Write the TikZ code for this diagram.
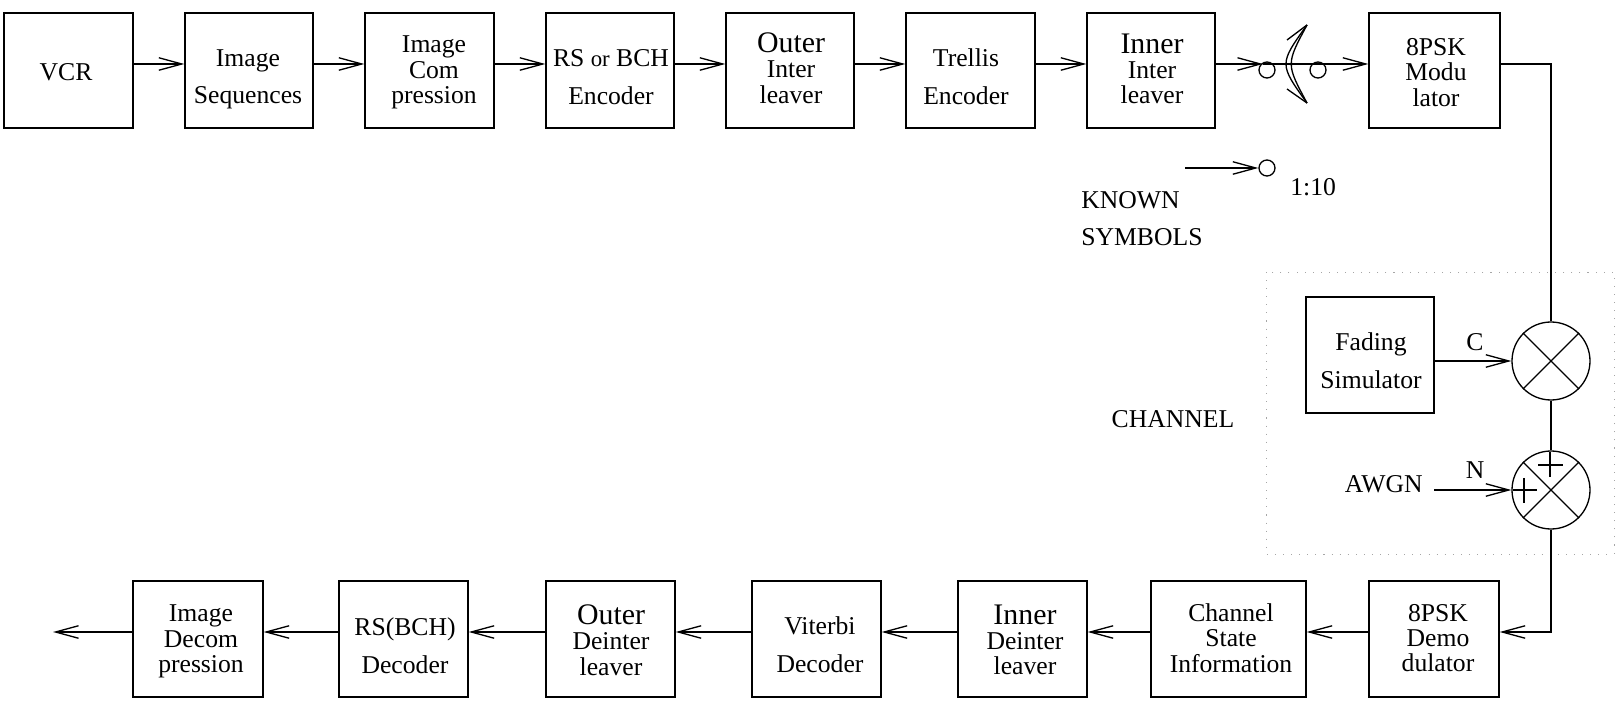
\documentclass[tikz,border=0pt]{standalone}
\usepackage{fontspec}
\setmainfont{Liberation Serif}
\usetikzlibrary{arrows.meta}
\newcommand{\bigtxt}{\fontsize{17}{17}\selectfont}
\newcommand{\smor}{\fontsize{13}{13}\selectfont}
\tikzset{
  wh/.style 2 args={minimum width=#1*0.02cm, minimum height=#2*0.02cm},
  box/.style={draw, rectangle, inner sep=0pt, line width=0.75pt},
  txt/.style={align=center, inner sep=0pt, font=\fontsize{14.6}{14.4}\selectfont},
  lbl/.style={inner sep=0pt, font=\fontsize{14.6}{14.4}\selectfont},
  arr/.style={-{Straight Barb[length=0.46cm, width=0.25cm]}, line width=0.75pt},
  ln/.style={line width=0.75pt},
  sw/.style={draw, circle, inner sep=0pt, minimum size=16*0.02cm, line width=0.75pt},
  mix/.style={draw, circle, inner sep=0pt, minimum size=78*0.02cm, line width=0.75pt},
}
\begin{document}
\begin{tikzpicture}[x=0.02cm, y=-0.02cm]
\useasboundingbox (0,0) rectangle (1617,702);
% channel region
\draw[gray!70, line width=0.5pt, dash pattern=on 0.6pt off 4pt] (1266,272) rectangle (1614,554);
% top row boxes
\node[box, wh={129}{115}] (vcr) at (68.5,70.5) {};
\node[box, wh={128}{115}] (seq) at (249,70.5) {};
\node[box, wh={129}{115}] (comp) at (429.5,70.5) {};
\node[box, wh={128}{115}] (rs) at (610,70.5) {};
\node[box, wh={128}{115}] (outer) at (790,70.5) {};
\node[box, wh={129}{115}] (trellis) at (970.5,70.5) {};
\node[box, wh={128}{115}] (inner) at (1151,70.5) {};
\node[box, wh={131}{115}] (mod) at (1434.5,70.5) {};
% top row texts
\node[txt] (vcr-t) at (66,72) {VCR};
\node[txt] (seq-t) at (248,79.5) {Image\\[7pt]Sequences};
\node[txt] (comp-t) at (434,72.5) {Image\\Com\\pression};
\node[txt] (rs-t) at (611,77) {RS {\smor or} BCH\\[7pt]Encoder};
\node[txt] (outer-t) at (791,68) {{\bigtxt Outer}\\Inter\\leaver};
\node[txt] (trellis-t) at (966,77) {Trellis\\[7pt]Encoder};
\node[txt] (inner-t) at (1152,69) {{\bigtxt Inner}\\Inter\\leaver};
\node[txt] (mod-t) at (1436,72.5) {8PSK\\Modu\\lator};
% bottom row boxes
\node[box, wh={130}{116}] (idec) at (198,639) {};
\node[box, wh={129}{116}] (rsdec) at (403.5,639) {};
\node[box, wh={129}{116}] (odeint) at (610.5,639) {};
\node[box, wh={129}{116}] (vit) at (816.5,639) {};
\node[box, wh={129}{116}] (ideint) at (1022.5,639) {};
\node[box, wh={155}{116}] (csi) at (1228.5,639) {};
\node[box, wh={130}{116}] (demod) at (1434,639) {};
% bottom row texts
\node[txt] (idec-t) at (201,641.5) {Image\\Decom\\pression};
\node[txt] (rsdec-t) at (405,645.5) {RS(BCH)\\[7pt]Decoder};
\node[txt] (odeint-t) at (611,640) {{\bigtxt Outer}\\Deinter\\leaver};
\node[txt] (vit-t) at (820,645) {Viterbi\\[7pt]Decoder};
\node[txt] (ideint-t) at (1025,640) {{\bigtxt Inner}\\Deinter\\leaver};
\node[txt] (csi-t) at (1231,638) {Channel\\State\\Information};
\node[txt] (demod-t) at (1438,638) {8PSK\\Demo\\dulator};
% channel parts
\node[box, wh={128}{116}] (fad) at (1370,355) {};
\node[txt] (fad-t) at (1371,361) {Fading\\[7pt]Simulator};
\node[mix] (mul) at (1551,361) {};
\node[mix] (add) at (1551,490) {};
\draw[ln] (mul.north west) -- (mul.south east) (mul.north east) -- (mul.south west);
\draw[ln] (add.north west) -- (add.south east) (add.north east) -- (add.south west);
\draw[ln] (1538,465) -- (1563,465) (1550,452) -- (1550,477);
\draw[ln] (1513,490) -- (1537,490) (1524,478) -- (1524,503);
% labels
\node[lbl] (c-l) at (1475,342) {C};
\node[lbl] (n-l) at (1475,470) {N};
\node[lbl, anchor=east] (awgn) at (1423,484) {AWGN};
\node[lbl] (chan) at (1173,419) {CHANNEL};
\node[lbl, anchor=west] (known) at (1081,200) {KNOWN};
\node[lbl, anchor=west] (symb) at (1081,237) {SYMBOLS};
\node[lbl, anchor=west] (ratio) at (1290,187) {1:10};
% switch
\node[sw] (sw1) at (1267,70) {};
\node[sw] (sw2) at (1318,70) {};
\node[sw] (ksc) at (1267,168) {};
\coordinate (ksin) at (1185,168);
\coordinate (swtip) at (1263,64);
\draw[ln] (1307,25) .. controls (1279,64) .. (1307,103);
\draw[ln] (1307,25) .. controls (1286,64) .. (1307,103);
\draw[ln] (1287,40) -- (1307,25) (1287,89) -- (1307,103);
% top connectors
\draw[arr] (vcr.east |- 0,64) -- (seq.west |- 0,64);
\draw[arr] (seq.east |- 0,64) -- (comp.west |- 0,64);
\draw[arr] (comp.east |- 0,64) -- (rs.west |- 0,64);
\draw[arr] (rs.east |- 0,64) -- (outer.west |- 0,64);
\draw[arr] (outer.east |- 0,64) -- (trellis.west |- 0,64);
\draw[arr] (trellis.east |- 0,64) -- (inner.west |- 0,64);
\draw[arr] (inner.east |- 0,64) -- (swtip);
\draw[arr] (swtip) -- (mod.west |- 0,64);
\draw[arr] (ksin) -- (ksc.west);
% channel connectors
\draw[ln] (mod.east |- 0,64) -| (mul.north);
\draw[arr] (fad.east |- mul.west) -- (mul.west);
\draw[ln] (mul.south) -- (add.north);
\coordinate (awgnin) at (1434,490);
\draw[arr] (awgnin) -- (add.west);
\draw[arr] (add.south) |- (demod.east |- 0,632);
% bottom connectors
\draw[arr] (demod.west |- 0,632) -- (csi.east |- 0,632);
\draw[arr] (csi.west |- 0,632) -- (ideint.east |- 0,632);
\draw[arr] (ideint.west |- 0,632) -- (vit.east |- 0,632);
\draw[arr] (vit.west |- 0,632) -- (odeint.east |- 0,632);
\draw[arr] (odeint.west |- 0,632) -- (rsdec.east |- 0,632);
\draw[arr] (rsdec.west |- 0,632) -- (idec.east |- 0,632);
\coordinate (out) at (53,632);
\draw[arr] (idec.west |- 0,632) -- (out);
\end{tikzpicture}
\end{document}
